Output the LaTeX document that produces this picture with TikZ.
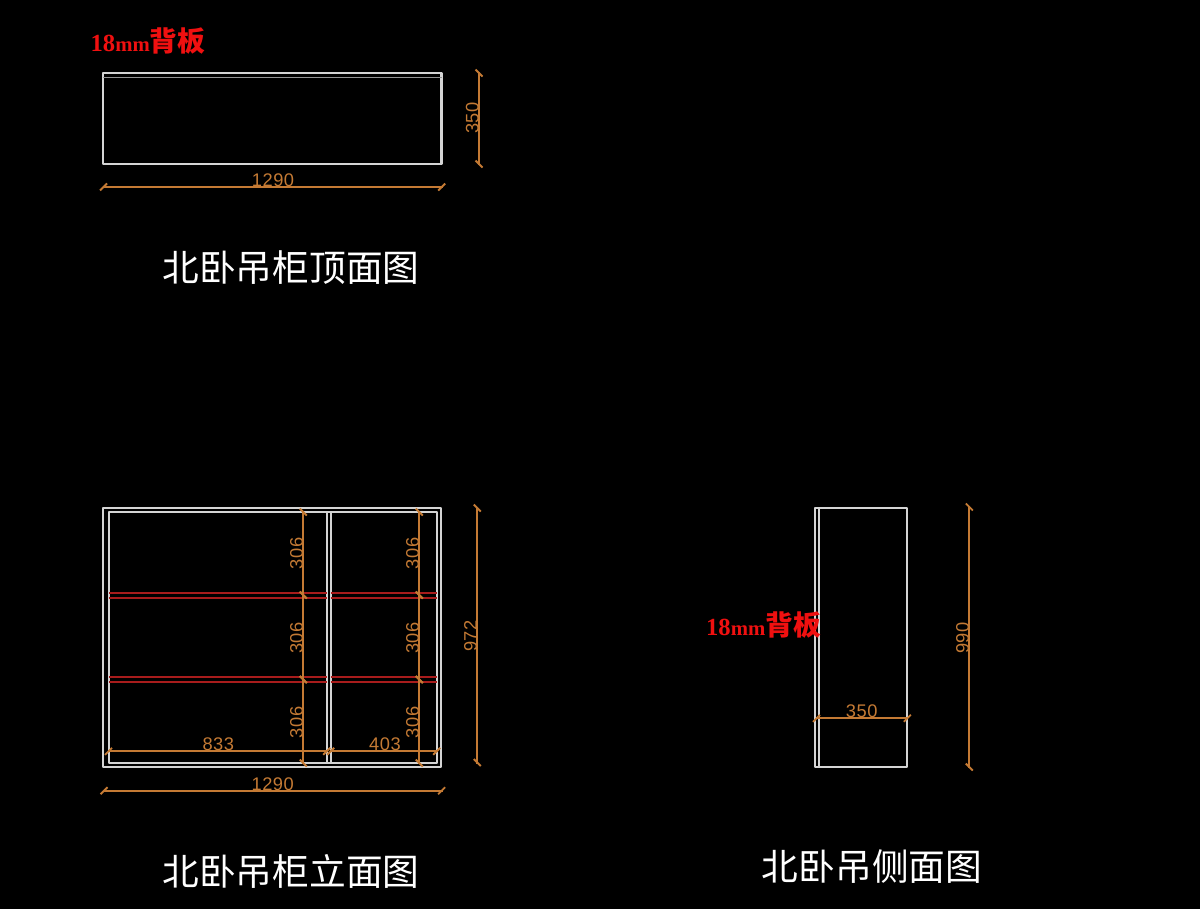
\documentclass[tikz,border=0pt]{standalone}
\usepackage{fontspec}
\setmainfont{Liberation Serif}
\newfontfamily\cadfont[LetterSpace=3]{Liberation Sans}
\newfontfamily\cjkfont{Noto Sans CJK SC}
\definecolor{dimcol}{HTML}{C47A34}
\definecolor{panel}{HTML}{D4D4D4}
\definecolor{shelf}{HTML}{A81C1C}
\definecolor{notecol}{HTML}{F01010}
\tikzset{
  x=0.02cm,y=-0.02cm,
  panelline/.style={draw=panel,line width=1.15pt,line join=round},
  thinpanel/.style={draw=panel!70!black,line width=1.1pt},
  shelfline/.style={draw=shelf,line width=1.25pt},
  dimline/.style={draw=dimcol,line width=1.05pt},
  dimtext/.style={text=dimcol,inner sep=0pt,font=\cadfont\fontsize{10.4pt}{10.4pt}\selectfont},
  titletext/.style={text=white,inner sep=0pt,font=\cjkfont\fontsize{20.9pt}{22pt}\selectfont},
  notetext/.style={text=notecol,inner sep=0pt,font=\bfseries\fontsize{14pt}{15pt}\selectfont}
}
% horizontal dimension: y, x1, x2, text centre, text
\newcommand{\hdim}[5]{%
  \draw[dimline] (#2-1,#1) -- (#3+1,#1);
  \draw[dimline] (#2-3.5,#1+3.5) -- (#2+3.5,#1-3.5);
  \draw[dimline] (#3-3.5,#1+3.5) -- (#3+3.5,#1-3.5);
  \node[dimtext,anchor=base] at (#4,#1-0.5) {#5};}
% vertical dimension: x, y1, y2, text centre, text
\newcommand{\vdim}[5]{%
  \draw[dimline] (#1,#2-1) -- (#1,#3+1);
  \draw[dimline] (#1-3.5,#2-3.5) -- (#1+3.5,#2+3.5);
  \draw[dimline] (#1-3.5,#3-3.5) -- (#1+3.5,#3+3.5);
  \node[dimtext,anchor=base,rotate=90] at (#1-0.5,#4) {#5};}
\newcommand{\notelabel}{18{\fontsize{11.8pt}{15pt}\selectfont mm}{\cjkfont\fontsize{15.8pt}{15pt}\selectfont 背板}}
\begin{document}
\begin{tikzpicture}
\path[fill=black,use as bounding box] (0,0) rectangle (1200,909);

% top view
\draw[panelline] (103.3,73.3) rectangle (441.5,164.3);
\draw[thinpanel] (103.3,77.5) -- (441.5,77.5);
\vdim{479}{73}{164}{118}{350}
\hdim{187}{103.5}{441.7}{273}{1290}
\node[notetext,anchor=center] (noteTop) at (148,41.5) {\notelabel};
\node[titletext] (titleTop) at (291,268) {北卧吊柜顶面图};

% front view
\draw[panelline] (103.3,508.3) rectangle (441,767.3);
\draw[panelline] (109.3,512.3) rectangle (436.7,763.3);
\draw[panelline] (327.3,512.3) -- (327.3,763.3);
\draw[panelline] (330.7,512.3) -- (330.7,763.3);
\foreach \yy in {592.7,598.3,677.3,682.3}{
  \draw[shelfline] (109.3,\yy) -- (327.3,\yy);
  \draw[shelfline] (330.7,\yy) -- (436.7,\yy);
}
\foreach \xx in {303.3,419.3}{
  \vdim{\xx}{512}{595}{553.5}{306}
  \vdim{\xx}{595}{679.5}{638}{306}
  \vdim{\xx}{679.5}{763}{722.5}{306}
}
\vdim{477.3}{508}{762.5}{636}{972}
\hdim{751.3}{108.5}{326.7}{218.3}{833}
\hdim{751.3}{330.7}{436.7}{385}{403}
\hdim{790.7}{104}{441.7}{272.7}{1290}
\node[titletext] (titleFront) at (291,871) {北卧吊柜立面图};

% side view
\draw[panelline] (815,507.7) rectangle (906.7,767.3);
\draw[panelline] (819.3,507.7) -- (819.3,767.3);
\vdim{969.3}{507}{767}{638}{990}
\hdim{718.3}{816.5}{907.3}{861.7}{350}
\node[notetext,anchor=center] (noteSide) at (763.5,625) {\notelabel};
\node[titletext] (titleSide) at (872,867) {北卧吊侧面图};
\end{tikzpicture}
\end{document}
